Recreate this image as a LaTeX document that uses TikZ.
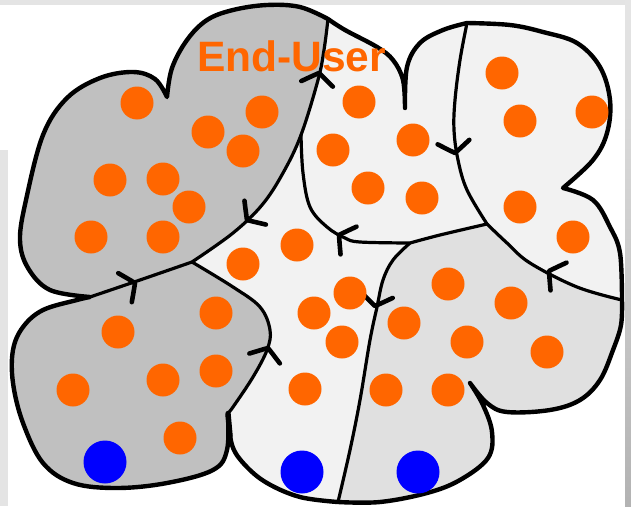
\documentclass[tikz,border=0pt]{standalone}
\usepackage{fontspec}
\usepackage{xcolor}
\usepackage{tikz}
\newfontfamily\titlefont{Liberation Sans}
\definecolor{DotOrange}{HTML}{FF6600}
\definecolor{DotBlue}{HTML}{0000FF}
\definecolor{ZoneDark}{HTML}{C0C0C0}
\definecolor{ZoneMid}{HTML}{E0E0E0}
\definecolor{ZoneLight}{HTML}{F2F2F2}
\definecolor{FrameGray}{HTML}{E4E4E4}

% pieces of the cloud outline
\def\pLone{-- plot[smooth,tension=.6] coordinates {(90,297) (50,290) (28,268) (20,240) (26,200) (43,135) (67,98) (100,78) (133,72) (155,79) (167,97)}}
\def\pLtwo{-- plot[smooth,tension=.6] coordinates {(167,97) (172,68) (187,40) (207,20) (233,10) (267,5) (300,7) (328,19)}}
\def\pUone{-- plot[smooth,tension=.6] coordinates {(328,19) (345,30) (377,47) (393,60) (403,80) (405,108)}}
\def\pUtwo{-- plot[smooth,tension=.6] coordinates {(405,108) (407,67) (420,43) (443,30) (467,23)}}
\def\pUthree{-- plot[smooth,tension=.6] coordinates {(467,23) (510,25) (543,32) (577,43) (600,67) (610,100) (607,133) (593,160) (563,188)}}
\def\pUfour{-- plot[smooth,tension=.6] coordinates {(563,188) (593,200) (610,227) (620,253) (622,300)}}
\def\pRone{-- plot[smooth,tension=.6] coordinates {(622,300) (621,325) (613,350) (600,380) (580,400) (550,410) (507,412) (487,403) (470,383)}}
\def\pRtwo{-- plot[smooth,tension=.6] coordinates {(470,383) (483,405) (492,432) (488,458) (460,480) (427,493) (380,502) (338,502)}}
\def\pRthree{-- plot[smooth,tension=.6] coordinates {(338,502) (300,497) (267,483) (245,465) (232,445) (228,413)}}
\def\pBone{-- plot[smooth,tension=.6] coordinates {(228,413) (227,450) (213,470) (167,483) (117,488) (73,483) (43,463) (23,423) (13,383) (13,350) (23,327) (43,310) (77,300) (90,297)}}
% pieces of the inner borders
\def\pPone{-- plot[smooth,tension=.6] coordinates {(328,19) (324,50) (318,80) (301,135) (283,173) (262,205) (233,233) (192,262)}}
\def\pPtwo{-- plot[smooth,tension=.6] coordinates {(192,262) (140,280) (90,297)}}
\def\pPback{-- plot[smooth,tension=.6] coordinates {(90,297) (140,280) (192,262)}}
\def\pQ{-- plot[smooth,tension=.6] coordinates {(192,262) (233,287) (260,307) (270,330) (267,350) (253,377) (233,407) (228,413)}}
\def\pSone{-- plot[smooth,tension=.6] coordinates {(301,135) (303,173) (310,207) (327,227) (345,238) (360,242) (410,243)}}
\def\pStwo{-- plot[smooth,tension=.6] coordinates {(410,243) (440,235) (487,224)}}
\def\pTone{-- plot[smooth,tension=.6] coordinates {(467,23) (460,60) (455,100) (454,130) (458,160) (467,190) (487,224)}}
\def\pTtwo{-- plot[smooth,tension=.6] coordinates {(487,224) (507,243) (530,263) (577,287) (622,300)}}
\def\pV{-- plot[smooth,tension=.6] coordinates {(410,243) (393,260) (383,280) (377,307) (370,340) (360,400) (350,450) (338,502)}}
\def\pVback{-- plot[smooth,tension=.6] coordinates {(338,502) (350,450) (360,400) (370,340) (377,307) (383,280) (393,260) (410,243)}}

\tikzset{
  rim/.style={line width=4.4pt, line join=round, line cap=round},
  border/.style={line width=3.2pt, line join=round, line cap=round},
  tipstroke/.style={line width=4.6pt, line cap=round, line join=round},
  flowtip/.pic={\draw[tipstroke] (-11,-16) .. controls (-4,-6) .. (0,0) .. controls (-4,6) .. (-11,16);},
  odot/.style={circle, fill=DotOrange, minimum size=33pt, inner sep=0pt},
  bdot/.style={circle, fill=DotBlue, minimum size=43pt, inner sep=0pt}
}

\begin{document}
\begin{tikzpicture}[x=1pt, y=-1pt]
  \useasboundingbox (0,0) rectangle (631,506);
  % frame
  \fill[FrameGray] (0,0) rectangle (631,506);
  \fill[white] (0,5) rectangle (625,506);
  \fill[FrameGray] (0,150) rectangle (8,506);
  \shade[top color=gray!20, bottom color=gray!60] (625,0) rectangle (631,506);
  % zones
  \fill[ZoneLight] (90,297) \pLone \pLtwo \pUone \pUtwo \pUthree \pUfour \pRone \pRtwo \pRthree \pBone -- cycle;
  \fill[ZoneDark] (90,297) \pLone \pLtwo \pPone \pPtwo -- cycle;
  \fill[ZoneDark] (192,262) \pQ \pBone \pPback -- cycle;
  \fill[ZoneMid] (410,243) \pStwo \pTtwo \pRone \pRtwo \pVback -- cycle;
  % outline and borders
  \draw[rim] (90,297) \pLone \pLtwo \pUone \pUtwo \pUthree \pUfour \pRone \pRtwo \pRthree \pBone -- cycle;
  \draw[border] (328,19) \pPone \pPtwo;
  \draw[border] (192,262) \pQ;
  \draw[border] (301,135) \pSone \pStwo;
  \draw[border] (467,23) \pTone \pTtwo;
  \draw[border] (410,243) \pV;
  \draw[line width=5.5pt, line cap=round] (228,414) -- (230,436);
  % flow tips
  \pic[rotate=222] at (247,220) {flowtip};
  \pic[rotate=80] at (319,73) {flowtip};
  \pic[rotate=-82] at (455,153) {flowtip};
  \pic[rotate=150] at (339,235) {flowtip};
  \pic[rotate=-100] at (375,306) {flowtip};
  \pic[rotate=150] at (549,271) {flowtip};
  \pic[rotate=25] at (135,283) {flowtip};
  \pic[rotate=72] at (268,348) {flowtip};
  % users
  \foreach \x/\y [count=\i] in {137/103, 208/132, 262/112, 243/151, 110/180, 163/179, 189/207, 91/237, 163/237,
      359/102, 333/150, 413/140, 368/188, 422/198,
      502/73, 520/121, 592/112, 520/207, 573/237,
      297/245, 243/264, 350/293, 314/313, 342/342, 305/389,
      448/284, 511/303, 404/323, 467/342, 547/352, 386/390, 448/390,
      118/332, 216/313, 73/390, 163/380, 216/371, 180/438}
    \node[odot] (o\i) at (\x,\y) {};
  \foreach \x/\y [count=\i] in {105/462, 302/472, 418/472}
    \node[bdot] (b\i) at (\x,\y) {};
  \node[anchor=base west, inner sep=0pt, text=DotOrange, font=\titlefont\bfseries\fontsize{42.5}{42.5}\selectfont] (title) at (197,71) {End-User};
\end{tikzpicture}
\end{document}
